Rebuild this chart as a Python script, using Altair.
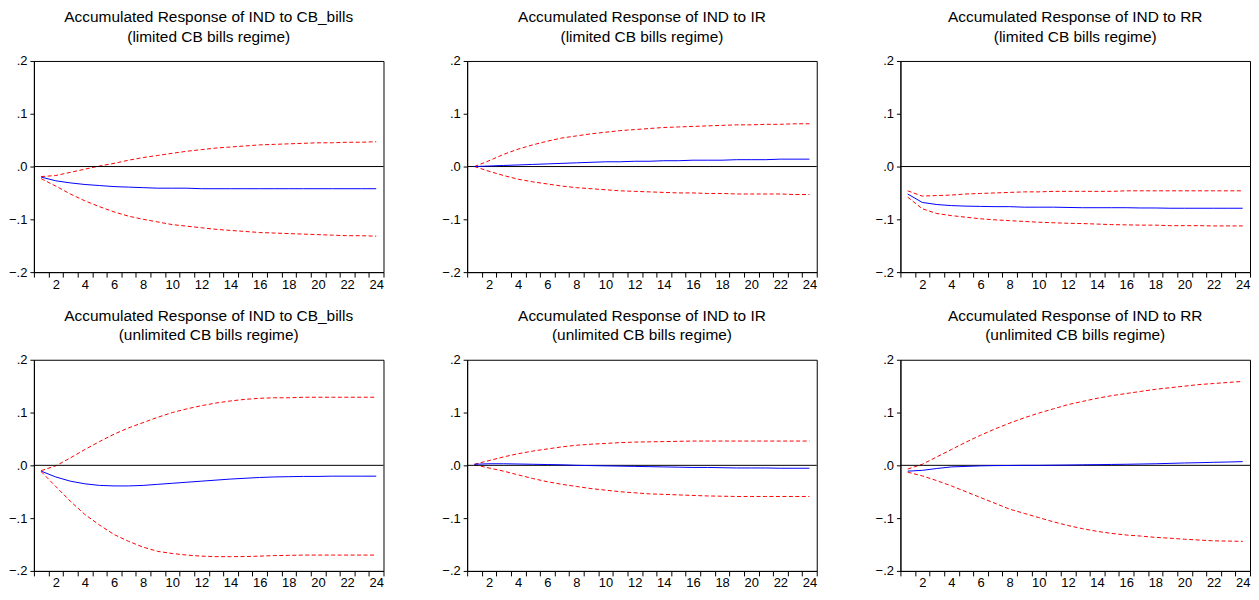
import altair as alt
import pandas as pd

periods = list(range(1, 25))

titles_top = [
    "Accumulated Response of IND to CB_bills",
    "Accumulated Response of IND to IR",
    "Accumulated Response of IND to RR",
]
regimes = ["(limited CB bills regime)", "(unlimited CB bills regime)"]

# limited regime
resp1 = [-0.020, -0.027, -0.031, -0.034, -0.036, -0.038, -0.039, -0.040, -0.041, -0.041, -0.041, -0.042,
         -0.042, -0.042, -0.042, -0.042, -0.042, -0.042, -0.042, -0.042, -0.042, -0.042, -0.042, -0.042]
upper1 = [-0.019, -0.017, -0.011, -0.005, 0.001, 0.006, 0.012, 0.017, 0.021, 0.025, 0.029, 0.032,
          0.035, 0.037, 0.039, 0.041, 0.042, 0.043, 0.044, 0.045, 0.045, 0.046, 0.046, 0.047]
lower1 = [-0.023, -0.037, -0.052, -0.065, -0.076, -0.086, -0.094, -0.100, -0.105, -0.110, -0.113, -0.116,
          -0.119, -0.121, -0.123, -0.125, -0.126, -0.127, -0.128, -0.129, -0.130, -0.131, -0.131, -0.132]

resp2 = [0.000, 0.001, 0.002, 0.003, 0.004, 0.005, 0.006, 0.007, 0.008, 0.009, 0.009, 0.010,
         0.010, 0.011, 0.011, 0.012, 0.012, 0.012, 0.013, 0.013, 0.013, 0.014, 0.014, 0.014]
upper2 = [0.000, 0.011, 0.023, 0.033, 0.041, 0.048, 0.054, 0.058, 0.062, 0.065, 0.068, 0.070,
          0.072, 0.074, 0.075, 0.076, 0.077, 0.078, 0.079, 0.079, 0.080, 0.080, 0.081, 0.081]
lower2 = [0.000, -0.009, -0.017, -0.024, -0.029, -0.033, -0.037, -0.040, -0.042, -0.044, -0.046, -0.047,
          -0.048, -0.049, -0.050, -0.050, -0.051, -0.051, -0.052, -0.052, -0.052, -0.052, -0.053, -0.053]

resp3 = [-0.052, -0.068, -0.072, -0.074, -0.075, -0.0755, -0.076, -0.076, -0.077, -0.077, -0.077, -0.0775,
         -0.078, -0.078, -0.078, -0.078, -0.0785, -0.0785, -0.079, -0.079, -0.079, -0.079, -0.079, -0.079]
upper3 = [-0.046, -0.056, -0.055, -0.054, -0.052, -0.051, -0.050, -0.049, -0.048, -0.048, -0.047, -0.047,
          -0.047, -0.047, -0.047, -0.046, -0.046, -0.046, -0.046, -0.046, -0.046, -0.046, -0.046, -0.046]
lower3 = [-0.058, -0.080, -0.089, -0.093, -0.096, -0.099, -0.101, -0.1025, -0.104, -0.1055, -0.1065, -0.1075,
          -0.108, -0.109, -0.110, -0.1105, -0.111, -0.111, -0.112, -0.112, -0.112, -0.1125, -0.1125, -0.1125]

# unlimited regime
resp4 = [-0.011, -0.022, -0.030, -0.035, -0.038, -0.039, -0.039, -0.038, -0.036, -0.034, -0.032, -0.030,
         -0.028, -0.026, -0.0245, -0.023, -0.022, -0.0215, -0.021, -0.021, -0.0205, -0.0205, -0.0205, -0.0205]
upper4 = [-0.010, -0.001, 0.014, 0.030, 0.045, 0.059, 0.071, 0.081, 0.091, 0.100, 0.107, 0.113,
          0.118, 0.122, 0.125, 0.127, 0.128, 0.128, 0.129, 0.129, 0.129, 0.129, 0.129, 0.129]
lower4 = [-0.012, -0.040, -0.068, -0.093, -0.113, -0.131, -0.144, -0.155, -0.163, -0.167, -0.170, -0.172,
          -0.173, -0.173, -0.1728, -0.172, -0.171, -0.1705, -0.170, -0.170, -0.170, -0.170, -0.170, -0.170]

resp5 = [0.002, 0.003, 0.003, 0.0025, 0.002, 0.0015, 0.001, 0.000, -0.0005, -0.001, -0.0015, -0.002,
         -0.0025, -0.003, -0.0035, -0.004, -0.004, -0.0045, -0.005, -0.005, -0.005, -0.0055, -0.0055, -0.0055]
upper5 = [0.002, 0.009, 0.016, 0.022, 0.027, 0.031, 0.035, 0.038, 0.040, 0.0415, 0.043, 0.044,
          0.0445, 0.045, 0.0455, 0.046, 0.046, 0.046, 0.046, 0.046, 0.046, 0.046, 0.046, 0.046]
lower5 = [0.001, -0.005, -0.011, -0.018, -0.025, -0.031, -0.036, -0.040, -0.044, -0.047, -0.050, -0.052,
          -0.054, -0.055, -0.056, -0.057, -0.058, -0.0585, -0.059, -0.059, -0.059, -0.059, -0.059, -0.059]

resp6 = [-0.011, -0.0095, -0.006, -0.003, -0.002, -0.001, -0.0005, -0.0003, 0.000, 0.000, 0.0003, 0.0006,
         0.001, 0.0013, 0.0017, 0.002, 0.0025, 0.003, 0.0037, 0.0045, 0.005, 0.0057, 0.0063, 0.007]
upper6 = [-0.007, 0.002, 0.016, 0.030, 0.044, 0.057, 0.069, 0.080, 0.090, 0.099, 0.107, 0.115,
          0.121, 0.127, 0.132, 0.136, 0.140, 0.144, 0.147, 0.150, 0.153, 0.155, 0.157, 0.159]
lower6 = [-0.013, -0.020, -0.029, -0.039, -0.050, -0.061, -0.072, -0.083, -0.091, -0.099, -0.107, -0.114,
          -0.120, -0.125, -0.129, -0.132, -0.134, -0.1365, -0.138, -0.140, -0.1415, -0.143, -0.1435, -0.144]

x_tick_values = [i + 0.5 for i in range(0, 25)]
y_tick_values = [-0.2, -0.1, 0.0, 0.1, 0.2]

FONT = "Liberation Sans"
W, H = 351, 212
HALF_STEP = W / 24 / 2


def panel(t1, t2, resp, upper, lower):
    df = pd.DataFrame({
        "period": periods * 3,
        "value": resp + upper + lower,
        "series": ["resp"] * 24 + ["upper"] * 24 + ["lower"] * 24,
    })
    xenc = alt.X(
        "period:Q",
        scale=alt.Scale(domain=[0.5, 24.5], nice=False, zero=False),
        axis=alt.Axis(
            values=x_tick_values,
            labelExpr="((datum.value - 0.5) % 2 == 0 && datum.value > 1) ? format(datum.value - 0.5, 'd') : ''",
            labelOffset=-HALF_STEP,
            labelOverlap=False,
            labelFlush=False,
            grid=False,
            title=None,
            tickSize=5,
            tickColor="black",
            domainColor="black",
            labelColor="black",
            labelFont=FONT,
            labelFontSize=13,
            labelPadding=1,
        ),
    )
    yenc = alt.Y(
        "value:Q",
        scale=alt.Scale(domain=[-0.2, 0.2], nice=False),
        axis=alt.Axis(
            values=y_tick_values,
            labelExpr="replace(format(datum.value, '.1f'), '0.', '.')",
            grid=False,
            title=None,
            tickSize=4,
            tickColor="black",
            domainColor="black",
            labelColor="black",
            labelFont=FONT,
            labelFontSize=13,
            labelPadding=3,
        ),
    )
    base = alt.Chart(df)
    zero = alt.Chart(pd.DataFrame({"z": [0.0]})).mark_rule(color="black", strokeWidth=1).encode(
        y=alt.Y("z:Q")
    )
    bands = base.transform_filter("datum.series != 'resp'").mark_line(
        color="#ff0000", strokeWidth=1, strokeDash=[4, 2.5]
    ).encode(x=xenc, y=yenc, detail="series:N")
    line = base.transform_filter("datum.series == 'resp'").mark_line(
        color="#0000ff", strokeWidth=1
    ).encode(x=xenc, y=yenc)
    return alt.layer(bands, zero, line).properties(
        width=W,
        height=H,
        title=alt.TitleParams(
            text=[t1, t2],
            font=FONT,
            fontSize=15.5,
            fontWeight="normal",
            color="black",
            lineHeight=19.5,
            anchor="middle",
            offset=10,
        ),
    )


row1 = alt.hconcat(
    panel(titles_top[0], regimes[0], resp1, upper1, lower1),
    panel(titles_top[1], regimes[0], resp2, upper2, lower2),
    panel(titles_top[2], regimes[0], resp3, upper3, lower3),
    spacing=57,
)
row2 = alt.hconcat(
    panel(titles_top[0], regimes[1], resp4, upper4, lower4),
    panel(titles_top[1], regimes[1], resp5, upper5, lower5),
    panel(titles_top[2], regimes[1], resp6, upper6, lower6),
    spacing=57,
)

chart = alt.vconcat(row1, row2, spacing=16).properties(
    padding={"top": 0, "left": 0, "right": 0, "bottom": 0}
).configure(
    background="white",
    view=alt.ViewConfig(stroke="black", strokeWidth=1),
)

chart.save("out.html", embed_options={"renderer": "svg", "actions": False})
